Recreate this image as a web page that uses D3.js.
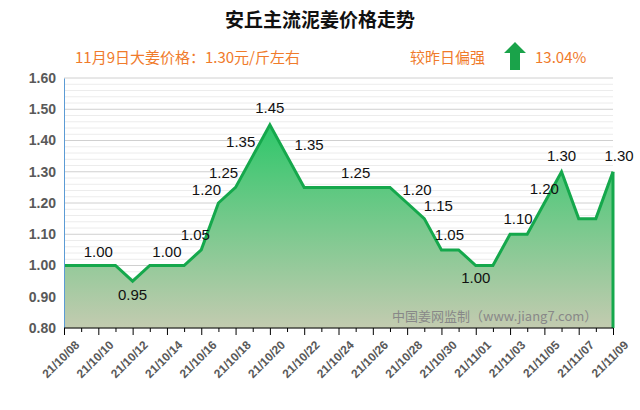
<!DOCTYPE html>
<html><head><meta charset="utf-8">
<script src="https://cdn.jsdelivr.net/npm/d3@7"></script>
<style>body{margin:0;background:#fff;font-family:"Microsoft YaHei","Noto Sans CJK SC",sans-serif;}</style>
</head><body><svg id="chart" width="640" height="410"></svg>
<script>
var dates = ["21/10/08","21/10/09","21/10/10","21/10/11","21/10/12","21/10/13","21/10/14","21/10/15","21/10/16","21/10/17","21/10/18","21/10/19","21/10/20","21/10/21","21/10/22","21/10/23","21/10/24","21/10/25","21/10/26","21/10/27","21/10/28","21/10/29","21/10/30","21/10/31","21/11/01","21/11/02","21/11/03","21/11/04","21/11/05","21/11/06","21/11/07","21/11/08","21/11/09"];
var prices = [1.00,1.00,1.00,1.00,0.95,1.00,1.00,1.00,1.05,1.20,1.25,1.35,1.45,1.35,1.25,1.25,1.25,1.25,1.25,1.25,1.20,1.15,1.05,1.05,1.00,1.00,1.10,1.10,1.20,1.30,1.15,1.15,1.30];
var labelIdx = [2,4,6,8,9,10,11,12,13,17,20,21,22,24,26,28,29,32];
var yTicks = [0.80,0.90,1.00,1.10,1.20,1.30,1.40,1.50,1.60];

var svg = d3.select("#chart");
var m = {l:64, r:27, t:78, b:82};
var W = 640, H = 410;
var x = d3.scalePoint().domain(dates).range([m.l, W - m.r]);
var y = d3.scaleLinear().domain([0.8, 1.6]).range([H - m.b, m.t]);

// title
svg.append("text").attr("x", 320).attr("y", 27).attr("text-anchor", "middle")
  .attr("font-size", 19).attr("font-weight", "bold").attr("fill", "#111").text("安丘主流泥姜价格走势");
svg.append("text").attr("x", 75).attr("y", 63).attr("font-size", 15).attr("fill", "#f07b2b")
  .text("11月9日大姜价格：1.30元/斤左右");
svg.append("text").attr("x", 410).attr("y", 63).attr("font-size", 15).attr("fill", "#f07b2b").text("较昨日偏强");
svg.append("path").attr("d", "M515,42 L526,53 L520,53 L520,70 L510,70 L510,53 L504,53 Z").attr("fill", "#1aa34a");
svg.append("text").attr("x", 535).attr("y", 63).attr("font-size", 15).attr("fill", "#f07b2b").text("13.04%");

// grid
var minor = d3.range(0.80, 1.6001, 0.02);
svg.append("g").selectAll("line").data(minor).join("line")
  .attr("x1", m.l).attr("x2", W - m.r).attr("y1", function (d) { return y(d); }).attr("y2", function (d) { return y(d); })
  .attr("stroke", function (d) { return Math.abs(d * 10 - Math.round(d * 10)) < 0.01 ? "#d0d0d0" : "#ececec"; })
  .attr("stroke-width", 1);

// gradient
var defs = svg.append("defs");
var g = defs.append("linearGradient").attr("id", "fillg").attr("x1", 0).attr("y1", 0).attr("x2", 0).attr("y2", 1)
  .attr("gradientUnits", "userSpaceOnUse").attr("y1", y(1.45)).attr("y2", y(0.8));
g.append("stop").attr("offset", 0).attr("stop-color", "#2ec76a");
g.append("stop").attr("offset", 1).attr("stop-color", "#c3cbb0");
var area = d3.area().x(function (d, i) { return x(dates[i]); }).y0(y(0.8)).y1(function (d) { return y(d); });
svg.append("path").datum(prices).attr("d", area).attr("fill", "url(#fillg)");
var line = d3.line().x(function (d, i) { return x(dates[i]); }).y(function (d) { return y(d); });
svg.append("path").datum(prices).attr("d", line).attr("fill", "none").attr("stroke", "#15a84c").attr("stroke-width", 3);
svg.append("line").attr("x1", W - m.r).attr("x2", W - m.r).attr("y1", y(1.3)).attr("y2", y(0.8))
  .attr("stroke", "#15a84c").attr("stroke-width", 3);

// watermark
svg.append("text").attr("x", 392).attr("y", 321).attr("font-size", 13).attr("fill", "#888").text("中国姜网监制（www.jiang7.com）");

// axes
var ya = svg.append("g").attr("transform", "translate(" + m.l + ",0)")
  .call(d3.axisLeft(y).tickValues(yTicks).tickFormat(d3.format(".2f")).tickSize(0).tickPadding(8));
ya.select(".domain").attr("stroke", "#5b9bd5");
ya.selectAll("text").attr("font-size", 14).attr("font-weight", "bold").attr("fill", "#595959").attr("font-family", "Liberation Sans, Arial");
var xa = svg.append("g").attr("transform", "translate(0," + (H - m.b) + ")")
  .call(d3.axisBottom(x).tickSize(5).tickFormat(function (d, i) { return i % 2 === 0 ? d : ""; }));
xa.select(".domain").attr("stroke", "#000").attr("d", "M" + m.l + ",0H" + (W - m.r));
xa.selectAll(".tick line").attr("y2", function (d, i) { return i % 2 === 0 ? 7 : 4; });
xa.selectAll("text").attr("font-size", 12).attr("font-weight", "bold").attr("fill", "#595959")
  .attr("font-family", "Liberation Sans, Arial")
  .attr("text-anchor", "end").attr("transform", "translate(4,6) rotate(-45)");

// data labels
var off = {2:[0,-9],4:[0,19],6:[0,-9],8:[-6,-10],9:[-12,-8],10:[-12,-9],11:[-12,-9],12:[0,-12],13:[22,-6],17:[0,-9],20:[10,-8],21:[14,-8],22:[8,-10],24:[0,17],26:[8,-10],28:[0,-9],29:[0,-11],32:[6,-11]};
svg.append("g").selectAll("text").data(labelIdx).join("text")
  .attr("x", function (i) { return x(dates[i]) + off[i][0]; })
  .attr("y", function (i) { return y(prices[i]) + off[i][1]; })
  .attr("text-anchor", "middle").attr("font-size", 15).attr("fill", "#111").attr("font-family", "Liberation Sans, Arial")
  .text(function (i) { return prices[i].toFixed(2); });
</script></body></html>
